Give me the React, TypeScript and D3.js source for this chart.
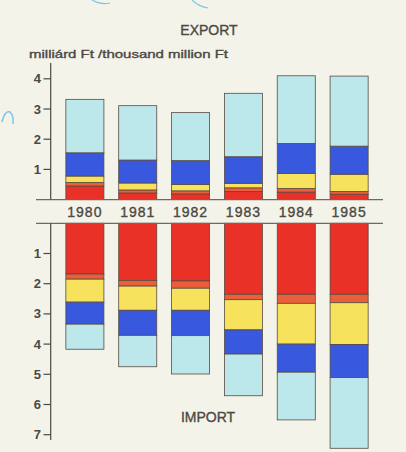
import React from "react";
import * as d3 from "d3";

const years = ["1980", "1981", "1982", "1983", "1984", "1985"];
const segmentKeys = ["red", "orange", "yellow", "blue", "cyan"];

// Export segment values (milliárd Ft), bottom to top
const exportRed = [0.45, 0.22, 0.19, 0.27, 0.25, 0.18];
const exportOrange = [0.12, 0.1, 0.1, 0.12, 0.12, 0.09];
const exportYellow = [0.21, 0.23, 0.21, 0.15, 0.5, 0.57];
const exportBlue = [0.77, 0.76, 0.79, 0.88, 0.99, 0.93];
const exportCyan = [1.77, 1.8, 1.59, 2.1, 2.24, 2.32];

// Import segment values (milliárd Ft), top to bottom
const importRed = [1.68, 1.89, 1.91, 2.35, 2.35, 2.35];
const importOrange = [0.17, 0.19, 0.24, 0.18, 0.3, 0.28];
const importYellow = [0.76, 0.8, 0.73, 1.0, 1.35, 1.38];
const importBlue = [0.73, 0.83, 0.84, 0.8, 0.93, 1.1];
const importCyan = [0.83, 1.04, 1.27, 1.38, 1.58, 2.34];

const exportTicks = [1, 2, 3, 4];
const importTicks = [1, 2, 3, 4, 5, 6, 7];

const colors: Record<string, string> = {
  red: "#ea3128",
  orange: "#ea5f3a",
  yellow: "#f6e25c",
  blue: "#3858de",
  cyan: "#bce8ec",
};

const W = 406;
const H = 452;
const font = "'Liberation Sans', Arial, sans-serif";
const ink = "#4c4842";

export default function App() {
  const x = d3.scaleBand<string>().domain(years).range([50, 384]).paddingInner(0.28).paddingOuter(0.3);
  const yExp = d3.scaleLinear().domain([0, 4]).range([199.6, 78.8]);
  const yImp = d3.scaleLinear().domain([0, 7]).range([223.3, 434.7]);

  const expRows = years.map((yr, i) => ({
    year: yr,
    red: exportRed[i],
    orange: exportOrange[i],
    yellow: exportYellow[i],
    blue: exportBlue[i],
    cyan: exportCyan[i],
  }));
  const impRows = years.map((yr, i) => ({
    year: yr,
    red: importRed[i],
    orange: importOrange[i],
    yellow: importYellow[i],
    blue: importBlue[i],
    cyan: importCyan[i],
  }));
  const stack = d3.stack<any>().keys(segmentKeys);
  const expStack = stack(expRows);
  const impStack = stack(impRows);

  const axisX = 50.7;
  const bw = x.bandwidth();
  const medium = { stroke: ink, strokeWidth: 0.35 };

  return (
    <svg
      width={W}
      height={H}
      style={{ position: "absolute", left: 0, top: 0, background: "#f4f3ea" }}
    >
      <rect x={0} y={0} width={W} height={H} fill="#f4f3ea" />
      {/* faint map remnants */}
      <path d="M92,0 Q100,5 110,3" fill="none" stroke="#7cc6e6" strokeWidth={1.2} />
      <path d="M192,0 Q198,6 208,8" fill="none" stroke="#7cc6e6" strokeWidth={1.2} />
      <path d="M2,122 Q5,110 10,112 Q14,116 13,124" fill="none" stroke="#7cc6e6" strokeWidth={1.5} />

      <text x={209} y={34.5} textAnchor="middle" fontFamily={font} fontSize={14} fill={ink} {...medium}>
        EXPORT
      </text>
      <text x={29} y={58} fontFamily={font} fontSize={11} fill={ink} textLength={199} lengthAdjust="spacingAndGlyphs" {...medium}>
        milliárd Ft /thousand million Ft
      </text>
      <text x={208} y={421.5} textAnchor="middle" fontFamily={font} fontSize={14} fill={ink} {...medium}>
        IMPORT
      </text>

      {/* export bars */}
      {expStack.map((layer) =>
        layer.map((d, i) => (
          <rect
            key={layer.key + i}
            x={x(years[i])}
            width={bw}
            y={yExp(d[1])}
            height={yExp(d[0]) - yExp(d[1])}
            fill={colors[layer.key]}
            stroke="#5a4a40"
            strokeWidth={0.8}
          />
        ))
      )}
      {/* import bars */}
      {impStack.map((layer) =>
        layer.map((d, i) => (
          <rect
            key={"i" + layer.key + i}
            x={x(years[i])}
            width={bw}
            y={yImp(d[0])}
            height={yImp(d[1]) - yImp(d[0])}
            fill={colors[layer.key]}
            stroke="#5a4a40"
            strokeWidth={0.8}
          />
        ))
      )}

      {/* horizontal separators */}
      <line x1={36} x2={383} y1={yExp(0)} y2={yExp(0)} stroke="#6e6a62" strokeWidth={1.2} />
      <line x1={36} x2={383} y1={yImp(0)} y2={yImp(0)} stroke="#6e6a62" strokeWidth={1.2} />

      {/* year labels */}
      {years.map((yr) => (
        <text
          key={yr}
          x={(x(yr) as number) + bw / 2}
          y={216.5}
          textAnchor="middle"
          fontFamily={font}
          fontSize={14}
          letterSpacing={1}
          fill={ink}
          {...medium}
        >
          {yr}
        </text>
      ))}

      {/* export axis */}
      <line x1={axisX} x2={axisX} y1={63} y2={yExp(0)} stroke={ink} strokeWidth={1.2} />
      {exportTicks.map((t) => (
        <g key={"e" + t}>
          <line x1={43.5} x2={axisX} y1={yExp(t)} y2={yExp(t)} stroke={ink} strokeWidth={1.2} />
          <text x={41} y={yExp(t) + 4.5} textAnchor="end" fontFamily={font} fontSize={13} fontWeight="bold" fill={ink}>
            {t}
          </text>
        </g>
      ))}

      {/* import axis */}
      <line x1={axisX} x2={axisX} y1={yImp(0)} y2={440} stroke={ink} strokeWidth={1.2} />
      {importTicks.map((t) => (
        <g key={"m" + t}>
          <line x1={43.5} x2={axisX} y1={yImp(t)} y2={yImp(t)} stroke={ink} strokeWidth={1.2} />
          <text x={41} y={yImp(t) + 4.5} textAnchor="end" fontFamily={font} fontSize={13} fontWeight="bold" fill={ink}>
            {t}
          </text>
        </g>
      ))}
    </svg>
  );
}
